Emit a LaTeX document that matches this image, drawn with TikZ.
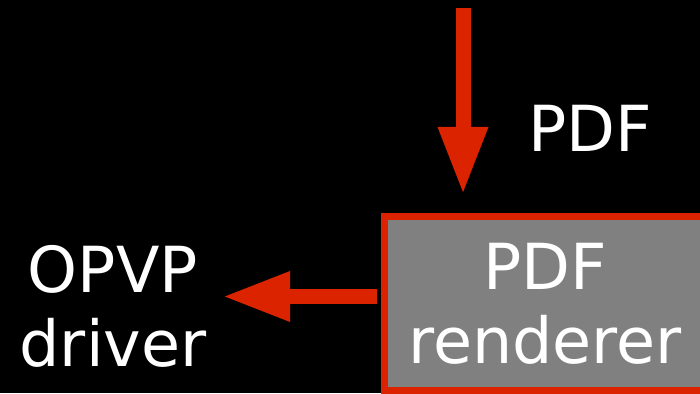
\documentclass[tikz,border=0pt]{standalone}
\usepackage{fontspec}
\setmainfont{DejaVu Sans}
\usetikzlibrary{arrows.meta,calc}

\definecolor{flowred}{RGB}{220,35,0}
\definecolor{boxgray}{RGB}{128,128,128}

\tikzset{
	big/.style={text=white, font=\fontsize{63.5pt}{74pt}\selectfont, align=center},
	flow/.style={draw=flowred, line width=15pt,
		-{Triangle[length=68pt,width=46pt]}},
}

\begin{document}
\begin{tikzpicture}[x=1pt,y=1pt]

% background %{{{1

	\fill[black] (0,0) rectangle (700,393);
	\useasboundingbox (0,0) rectangle (700,393);
	\clip (0,0) rectangle (700,393);

% coordinates %{{{1

	\coordinate (intop) at (463,385);
	\coordinate (outtip) at (222,96.5);

% boxes %{{{1

	\node[big, draw=flowred, fill=boxgray, line width=7pt,
		minimum width=321pt, minimum height=174pt] (renderer)
		at (545,89.5) {PDF\\renderer};

% labels %{{{1

	\node[big, anchor=base] (pdf) at (590.5,241.5) {PDF};
	\node[big] (driver) at (113,86.5) {OPVP\\driver};

% arrows %{{{1

	\draw[flow, shorten >=18pt] (intop) -- (intop |- renderer.north);
	\draw[flow, shorten <=4pt] ([yshift=7pt]renderer.west) -- (outtip);

% closing %{{{1

\end{tikzpicture}
\end{document}
